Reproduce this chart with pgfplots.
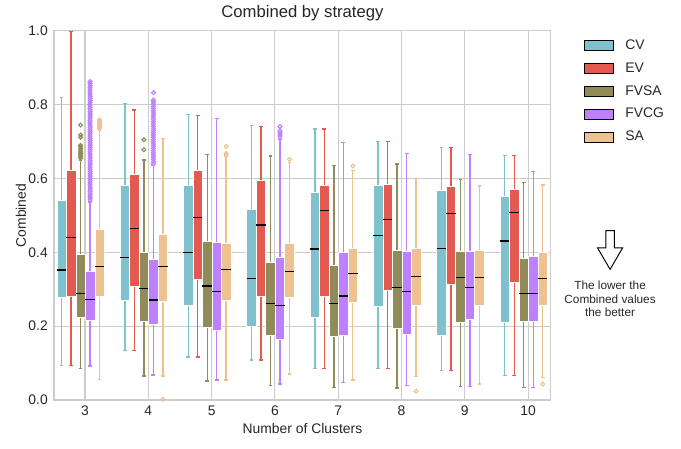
\documentclass[border=0pt]{standalone}
\usepackage{pgfplots}
\pgfplotsset{compat=1.18}
\usepgfplotslibrary{statistics}
\usepackage{fontspec}
\setmainfont{Liberation Sans}

\definecolor{cCV}{HTML}{7FC1CD}
\definecolor{cEV}{HTML}{E55A50}
\definecolor{cFVSA}{HTML}{918B5A}
\definecolor{cFVCG}{HTML}{BF80FF}
\definecolor{cSA}{HTML}{EEC191}
\definecolor{gridgray}{HTML}{CCCCCC}
\definecolor{txt}{HTML}{262626}

% one box: colour, position, lower whisker, Q1, median, Q3, upper whisker
\newcommand{\bx}[7]{%
  \addplot[forget plot, draw=#1, mark=o, mark size=1.4pt,
    mark options={draw=#1, line width=0.8pt, solid},
    boxplot prepared={draw direction=y, draw position=#2,
      lower whisker=#3, lower quartile=#4, median=#5,
      upper quartile=#6, upper whisker=#7,
      box extend=0.15, whisker extend=0.06,
      every box/.style={fill=#1, draw=white, line width=0.4pt},
      every whisker/.style={draw=#1, line width=1pt},
      every median/.style={draw=black, line width=0.9pt}}]}

\begin{document}
\begin{tikzpicture}
\useasboundingbox (-38.88pt,-35.28pt) rectangle (451.44pt,288pt);
\begin{axis}[
    scale only axis,
    width=357.8pt, height=265.7pt,
    xmin=2.51, xmax=10.36,
    ymin=0, ymax=1,
    xtick={3,4,5,6,7,8,9,10},
    ytick={0,0.2,0.4,0.6,0.8,1.0},
    yticklabel style={/pgf/number format/fixed, /pgf/number format/fixed zerofill, /pgf/number format/precision=1},
    /pgf/number format/assume math mode=true,
    major tick length=0pt,
    grid=major,
    major grid style={draw=gridgray, line width=0.75pt},
    axis line style={draw=gridgray, line width=0.75pt},
    tick label style={font=\fontsize{10}{12}\selectfont, text=txt},
    xticklabel style={inner sep=0pt, yshift=-4pt},
    yticklabel style={inner sep=0pt, xshift=-4.3pt},
    every axis title shift=0pt,
    title={Combined by strategy},
    title style={font=\fontsize{12}{14}\selectfont, text=txt, at={(axis description cs:0.5,1)}, anchor=base, yshift=9.4pt, inner sep=0pt},
    xlabel={Number of Clusters},
    xlabel style={font=\fontsize{10}{12}\selectfont, text=txt, at={(axis description cs:0.5,0)}, anchor=base, yshift=-24pt, inner sep=0pt},
    ylabel={Combined},
    ylabel style={font=\fontsize{10}{12}\selectfont, text=txt, at={(axis description cs:0,0.5)}, anchor=base, yshift=20.2pt, inner sep=0pt},
    legend style={at={(axis description cs:1.0655,0.977)}, anchor=north west,
      draw=none, fill=none, inner sep=0pt, row sep=8pt,
      font=\fontsize{10}{12}\selectfont, text=txt,
      nodes={inner sep=0pt, anchor=west},
      /tikz/every odd column/.style={column sep=8.5pt}},
    legend cell align=left,
    legend image code/.code={\fill[#1] (0pt,-3.6pt) rectangle (21.1pt,3.6pt);},
    clip=false,
]
\addlegendimage{fill=cCV}\addlegendentry{CV}
\addlegendimage{fill=cEV}\addlegendentry{EV}
\addlegendimage{fill=cFVSA}\addlegendentry{FVSA}
\addlegendimage{fill=cFVCG}\addlegendentry{FVCG}
\addlegendimage{fill=cSA}\addlegendentry{SA}

% ---- 3 clusters
\bx{cCV}{2.63}{0.094}{0.278}{0.352}{0.542}{0.820} coordinates {};
\bx{cEV}{2.78}{0.094}{0.280}{0.441}{0.623}{0.998} coordinates {};
\bx{cFVSA}{2.93}{0.086}{0.223}{0.289}{0.396}{0.650}
  table[row sep=\\, y index=0] {v\\0.655\\0.660\\0.664\\0.668\\0.672\\0.677\\0.681\\0.686\\0.690\\0.712\\0.718\\0.745\\};
\bx{cFVCG}{3.08}{0.092}{0.215}{0.273}{0.350}{0.537}
  table[row sep=\\, y index=0] {v\\0.542\\0.548\\0.553\\0.559\\0.565\\0.571\\0.577\\0.583\\0.589\\0.595\\0.601\\0.607\\0.613\\0.619\\0.625\\0.631\\0.637\\0.643\\0.649\\0.655\\0.661\\0.667\\0.673\\0.679\\0.685\\0.691\\0.697\\0.703\\0.709\\0.715\\0.721\\0.727\\0.733\\0.739\\0.745\\0.751\\0.757\\0.763\\0.769\\0.775\\0.781\\0.787\\0.793\\0.799\\0.805\\0.811\\0.817\\0.823\\0.829\\0.835\\0.841\\0.847\\0.853\\0.858\\0.863\\};
\bx{cSA}{3.23}{0.056}{0.280}{0.361}{0.463}{0.732}
  table[row sep=\\, y index=0] {v\\0.736\\0.740\\0.744\\0.748\\0.752\\0.756\\0.759\\};

% ---- 4 clusters
\bx{cCV}{3.63}{0.134}{0.271}{0.387}{0.583}{0.804} coordinates {};
\bx{cEV}{3.78}{0.134}{0.307}{0.465}{0.612}{0.786} coordinates {};
\bx{cFVSA}{3.93}{0.065}{0.214}{0.303}{0.399}{0.650}
  table[row sep=\\, y index=0] {v\\0.678\\0.705\\};
\bx{cFVCG}{4.08}{0.068}{0.206}{0.271}{0.382}{0.635}
  table[row sep=\\, y index=0] {v\\0.640\\0.646\\0.652\\0.658\\0.664\\0.670\\0.676\\0.682\\0.688\\0.694\\0.700\\0.706\\0.712\\0.718\\0.724\\0.730\\0.736\\0.742\\0.748\\0.754\\0.760\\0.766\\0.772\\0.778\\0.784\\0.790\\0.796\\0.802\\0.808\\0.813\\0.833\\};
\bx{cSA}{4.23}{0.065}{0.268}{0.361}{0.450}{0.709}
  table[row sep=\\, y index=0] {v\\0.002\\};

% ---- 5 clusters
\bx{cCV}{4.63}{0.116}{0.257}{0.400}{0.583}{0.774} coordinates {};
\bx{cEV}{4.78}{0.116}{0.326}{0.495}{0.623}{0.771} coordinates {};
\bx{cFVSA}{4.93}{0.051}{0.196}{0.309}{0.431}{0.666} coordinates {};
\bx{cFVCG}{5.08}{0.054}{0.188}{0.293}{0.428}{0.763} coordinates {};
\bx{cSA}{5.23}{0.054}{0.269}{0.354}{0.425}{0.659}
  table[row sep=\\, y index=0] {v\\0.664\\0.668\\0.687\\};

% ---- 6 clusters
\bx{cCV}{5.63}{0.108}{0.199}{0.330}{0.518}{0.744} coordinates {};
\bx{cEV}{5.78}{0.108}{0.280}{0.474}{0.596}{0.741} coordinates {};
\bx{cFVSA}{5.93}{0.040}{0.175}{0.262}{0.372}{0.661} coordinates {};
\bx{cFVCG}{6.08}{0.043}{0.164}{0.257}{0.386}{0.706}
  table[row sep=\\, y index=0] {v\\0.712\\0.718\\0.724\\0.730\\0.741\\};
\bx{cSA}{6.23}{0.070}{0.277}{0.349}{0.425}{0.643}
  table[row sep=\\, y index=0] {v\\0.652\\};

% ---- 7 clusters
\bx{cCV}{6.63}{0.086}{0.223}{0.409}{0.562}{0.734} coordinates {};
\bx{cEV}{6.78}{0.086}{0.282}{0.514}{0.583}{0.734} coordinates {};
\bx{cFVSA}{6.93}{0.034}{0.172}{0.262}{0.366}{0.636} coordinates {};
\bx{cFVCG}{7.08}{0.048}{0.175}{0.282}{0.399}{0.697} coordinates {};
\bx{cSA}{7.23}{0.054}{0.266}{0.343}{0.411}{0.622}
  table[row sep=\\, y index=0] {v\\0.634\\};

% ---- 8 clusters
\bx{cCV}{7.63}{0.086}{0.253}{0.446}{0.583}{0.701} coordinates {};
\bx{cEV}{7.78}{0.086}{0.296}{0.490}{0.585}{0.701} coordinates {};
\bx{cFVSA}{7.93}{0.032}{0.193}{0.304}{0.407}{0.639} coordinates {};
\bx{cFVCG}{8.08}{0.040}{0.178}{0.295}{0.404}{0.668} coordinates {};
\bx{cSA}{8.23}{0.063}{0.257}{0.335}{0.411}{0.601}
  table[row sep=\\, y index=0] {v\\0.024\\};

% ---- 9 clusters
\bx{cCV}{8.63}{0.080}{0.175}{0.411}{0.569}{0.685} coordinates {};
\bx{cEV}{8.78}{0.080}{0.314}{0.506}{0.580}{0.685} coordinates {};
\bx{cFVSA}{8.93}{0.037}{0.210}{0.331}{0.404}{0.598} coordinates {};
\bx{cFVCG}{9.08}{0.037}{0.220}{0.304}{0.404}{0.666} coordinates {};
\bx{cSA}{9.23}{0.043}{0.256}{0.331}{0.407}{0.580} coordinates {};

% ---- 10 clusters
\bx{cCV}{9.63}{0.067}{0.210}{0.431}{0.553}{0.663} coordinates {};
\bx{cEV}{9.78}{0.067}{0.320}{0.509}{0.572}{0.663} coordinates {};
\bx{cFVSA}{9.93}{0.034}{0.212}{0.289}{0.385}{0.590} coordinates {};
\bx{cFVCG}{10.08}{0.034}{0.212}{0.289}{0.390}{0.620} coordinates {};
\bx{cSA}{10.23}{0.061}{0.257}{0.330}{0.399}{0.583}
  table[row sep=\\, y index=0] {v\\0.043\\};

% annotation
\draw[black, line width=0.7pt]
  (axis description cs:1.1104,0.459) -- (axis description cs:1.1277,0.459)
  -- (axis description cs:1.1277,0.412) -- (axis description cs:1.1442,0.412)
  -- (axis description cs:1.119,0.354) -- (axis description cs:1.0938,0.412)
  -- (axis description cs:1.1104,0.412) -- cycle;
\node[align=center, font=\fontsize{8.5}{9.7}\selectfont, text=txt, inner sep=0pt]
  at (axis description cs:1.119,0.274) {The lower the\\Combined values\\the better};
\end{axis}
\end{tikzpicture}
\end{document}
